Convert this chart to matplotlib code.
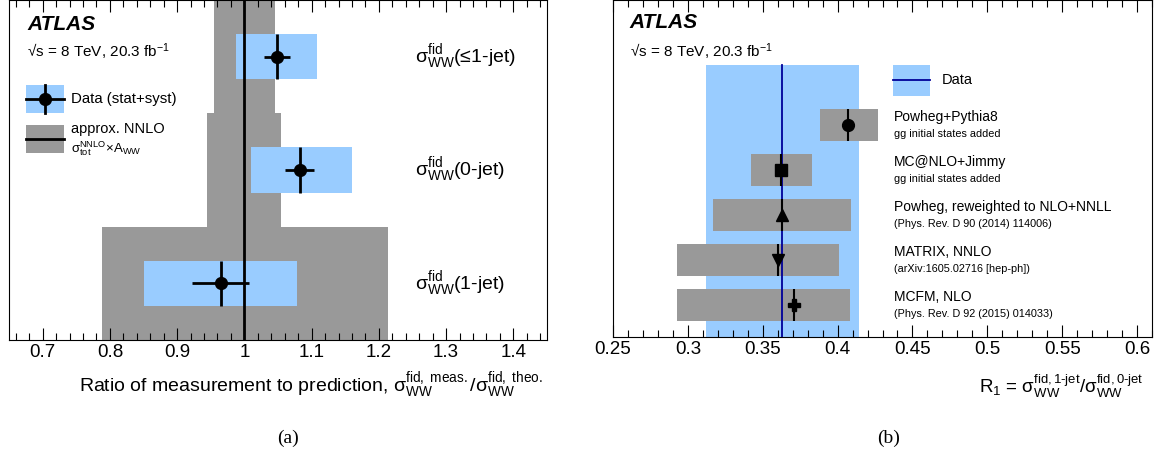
import matplotlib
matplotlib.use('Agg')
import matplotlib.pyplot as plt
import matplotlib.transforms as mtransforms
from matplotlib.patches import Rectangle
from matplotlib.lines import Line2D
from matplotlib.ticker import MultipleLocator, FuncFormatter
import numpy as np

plt.rcParams['font.family'] = ['Liberation Sans', 'DejaVu Sans']
plt.rcParams['mathtext.fontset'] = 'custom'
plt.rcParams['mathtext.rm'] = 'Liberation Sans'
plt.rcParams['mathtext.it'] = 'Liberation Sans:italic'
plt.rcParams['mathtext.bf'] = 'Liberation Sans:bold'

# ---------------- data: panel (a) ----------------
cat_a = ['≤1-jet', '0-jet', '1-jet']
ratio = np.array([1.049, 1.082, 0.965])
ratio_tot_lo = np.array([0.988, 1.010, 0.851])
ratio_tot_hi = np.array([1.108, 1.160, 1.078])
ratio_stat_lo = np.array([1.029, 1.061, 0.922])
ratio_stat_hi = np.array([1.068, 1.103, 1.007])
theo_lo = np.array([0.955, 0.945, 0.788])
theo_hi = np.array([1.045, 1.054, 1.213])
xticks_a = [0.7, 0.8, 0.9, 1.0, 1.1, 1.2, 1.3, 1.4]

# ---------------- data: panel (b) ----------------
models = ['Powheg+Pythia8', 'MC@NLO+Jimmy', 'Powheg, reweighted to NLO+NNLL',
          'MATRIX, NNLO', 'MCFM, NLO']
notes = ['gg initial states added', 'gg initial states added',
         '(Phys. Rev. D 90 (2014) 114006)', '(arXiv:1605.02716 [hep-ph])',
         '(Phys. Rev. D 92 (2015) 014033)']
pred = np.array([0.407, 0.362, 0.363, 0.3605, 0.371])
pred_lo = np.array([0.388, 0.342, 0.317, 0.293, 0.293])
pred_hi = np.array([0.427, 0.383, 0.409, 0.401, 0.408])
markers = ['o', 's', '^', 'v', 'P']
r1_data = 0.363
r1_lo = 0.312
r1_hi = 0.414
xticks_b = [0.25, 0.3, 0.35, 0.4, 0.45, 0.5, 0.55, 0.6]

BLUE = '#99ccff'
GRAY = '#999999'
NAVY = '#000099'

W, H = 1163, 457
fig = plt.figure(figsize=(W / 100, H / 100), dpi=100)
axA = fig.add_axes([9 / W, 1 - 340 / H, 538 / W, 340 / H])
axB = fig.add_axes([613 / W, 1 - 337 / H, 539 / W, 337 / H])

fmt = FuncFormatter(lambda v, p: f"{v:g}")
for ax in (axA, axB):
    ax.set_yticks([])
    ax.tick_params(which='both', direction='in', top=True, bottom=True,
                   left=False, right=False, labelsize=13.5, pad=3)
    ax.tick_params(which='major', length=8.5, width=0.8)
    ax.tick_params(which='minor', length=5, width=0.8)
    ax.xaxis.set_major_formatter(fmt)
    for s in ax.spines.values():
        s.set_linewidth(0.8)

# ---------------- panel (a) ----------------
ya = np.array([2.5, 1.5, 0.5])
axA.set_xlim(0.65, 1.45)
axA.set_ylim(0, 3)
axA.set_xticks(xticks_a)
axA.xaxis.set_minor_locator(MultipleLocator(0.02))
axA.barh(ya, theo_hi - theo_lo, left=theo_lo, height=1.0, color=GRAY, lw=0, zorder=1)
axA.barh(ya, ratio_tot_hi - ratio_tot_lo, left=ratio_tot_lo, height=0.4,
         color=BLUE, lw=0, zorder=2)
axA.axvline(1.0, color='k', lw=2, zorder=3)
axA.errorbar(ratio, ya, xerr=[ratio - ratio_stat_lo, ratio_stat_hi - ratio],
             yerr=0.2, fmt='o', color='k', ms=8.5, lw=2, capsize=0, zorder=4)

ta = mtransforms.blended_transform_factory(axA.transAxes, axA.transData)
for y, c in zip(ya, cat_a):
    axA.text(0.755, y, r"$\mathregular{σ^{fid}_{WW}}$(" + c + ")",
             transform=ta, fontsize=14, va='center', ha='left')

axA.text(0.034, 0.928, "ATLAS", transform=axA.transAxes, fontsize=15,
         fontweight='bold', fontstyle='italic', va='center')
axA.text(0.034, 0.847, r"√s = 8 TeV, 20.3 fb$^{\mathregular{-1}}$",
         transform=axA.transAxes, fontsize=11, va='center')

# legend (a)
axA.add_patch(Rectangle((0.031, 0.668), 0.071, 0.082, transform=axA.transAxes,
                        color=BLUE, lw=0, zorder=5))
axA.add_line(Line2D([0.031, 0.102], [0.709, 0.709], transform=axA.transAxes,
                    color='k', lw=2, zorder=6))
axA.add_line(Line2D([0.0665, 0.0665], [0.668, 0.750], transform=axA.transAxes,
                    color='k', lw=2, zorder=6))
axA.add_line(Line2D([0.0665], [0.709], transform=axA.transAxes, marker='o',
                    color='k', ms=8.5, zorder=7))
axA.text(0.115, 0.709, "Data (stat+syst)", transform=axA.transAxes,
         fontsize=10.8, va='center')
axA.add_patch(Rectangle((0.031, 0.55), 0.071, 0.082, transform=axA.transAxes,
                        color=GRAY, lw=0, zorder=5))
axA.add_line(Line2D([0.031, 0.102], [0.591, 0.591], transform=axA.transAxes,
                    color='k', lw=2, zorder=6))
axA.text(0.115, 0.622, "approx. NNLO", transform=axA.transAxes,
         fontsize=10.5, va='center')
axA.text(0.115, 0.562, r"$\mathregular{σ^{NNLO}_{tot}}$×$\mathregular{A_{WW}}$",
         transform=axA.transAxes, fontsize=9.5, va='center')

axA.text(0.993, -0.153,
         r"Ratio of measurement to prediction, $\mathregular{σ^{fid,\ meas.}_{WW}/σ^{fid,\ theo.}_{WW}}$",
         transform=axA.transAxes, fontsize=14, ha='right', va='baseline')

# ---------------- panel (b) ----------------
nb = len(models)
yb = np.arange(nb)[::-1].astype(float)  # top model at highest y
ylo_b, yhi_b = -0.71, 6.78
band_top = 5.33
axB.set_xlim(0.25, 0.61)
axB.set_ylim(ylo_b, yhi_b)
axB.set_xticks(xticks_b)
axB.xaxis.set_minor_locator(MultipleLocator(0.01))

axB.fill_betweenx([ylo_b, band_top], r1_lo, r1_hi, color=BLUE, lw=0, zorder=1)
axB.barh(yb, pred_hi - pred_lo, left=pred_lo, height=0.7, color=GRAY, lw=0, zorder=2)
axB.plot([r1_data, r1_data], [ylo_b, band_top], color=NAVY, lw=1.3, zorder=3)
for x, y, m in zip(pred, yb, markers):
    axB.errorbar([x], [y], yerr=0.35, fmt=m, color='k', ms=8.5 if m != 'P' else 9,
                 lw=1.5, capsize=0, zorder=4)

tb = mtransforms.blended_transform_factory(axB.transAxes, axB.transData)
for y, mname, note in zip(yb, models, notes):
    axB.text(0.522, y + 0.19, mname, transform=tb, fontsize=10, va='center')
    axB.text(0.522, y - 0.19, note, transform=tb, fontsize=7.8, va='center')

# Data legend entry (b)
axB.add_patch(Rectangle((0.519, 5 - 0.345), 0.070, 0.69, transform=tb,
                        color=BLUE, lw=0, zorder=5))
axB.add_line(Line2D([0.519, 0.589], [5, 5], transform=tb, color=NAVY, lw=1.3, zorder=6))
axB.text(0.609, 5, "Data", transform=tb, fontsize=10.5, va='center')

axB.text(0.031, 0.932, "ATLAS", transform=axB.transAxes, fontsize=15,
         fontweight='bold', fontstyle='italic', va='center')
axB.text(0.031, 0.846, r"√s = 8 TeV, 20.3 fb$^{\mathregular{-1}}$",
         transform=axB.transAxes, fontsize=11, va='center')

axB.text(0.985, -0.166,
         r"$\mathregular{R_1}$ = $\mathregular{σ^{fid,1\text{-}jet}_{WW}/σ^{fid,0\text{-}jet}_{WW}}$",
         transform=axB.transAxes, fontsize=13.5, ha='right', va='baseline')

# panel captions
fig.text(288 / W, 1 - 438 / H, "(a)", family='Liberation Serif', fontsize=14,
         ha='center', va='center')
fig.text(889 / W, 1 - 438 / H, "(b)", family='Liberation Serif', fontsize=14,
         ha='center', va='center')

fig.savefig('out.png', dpi=100)
